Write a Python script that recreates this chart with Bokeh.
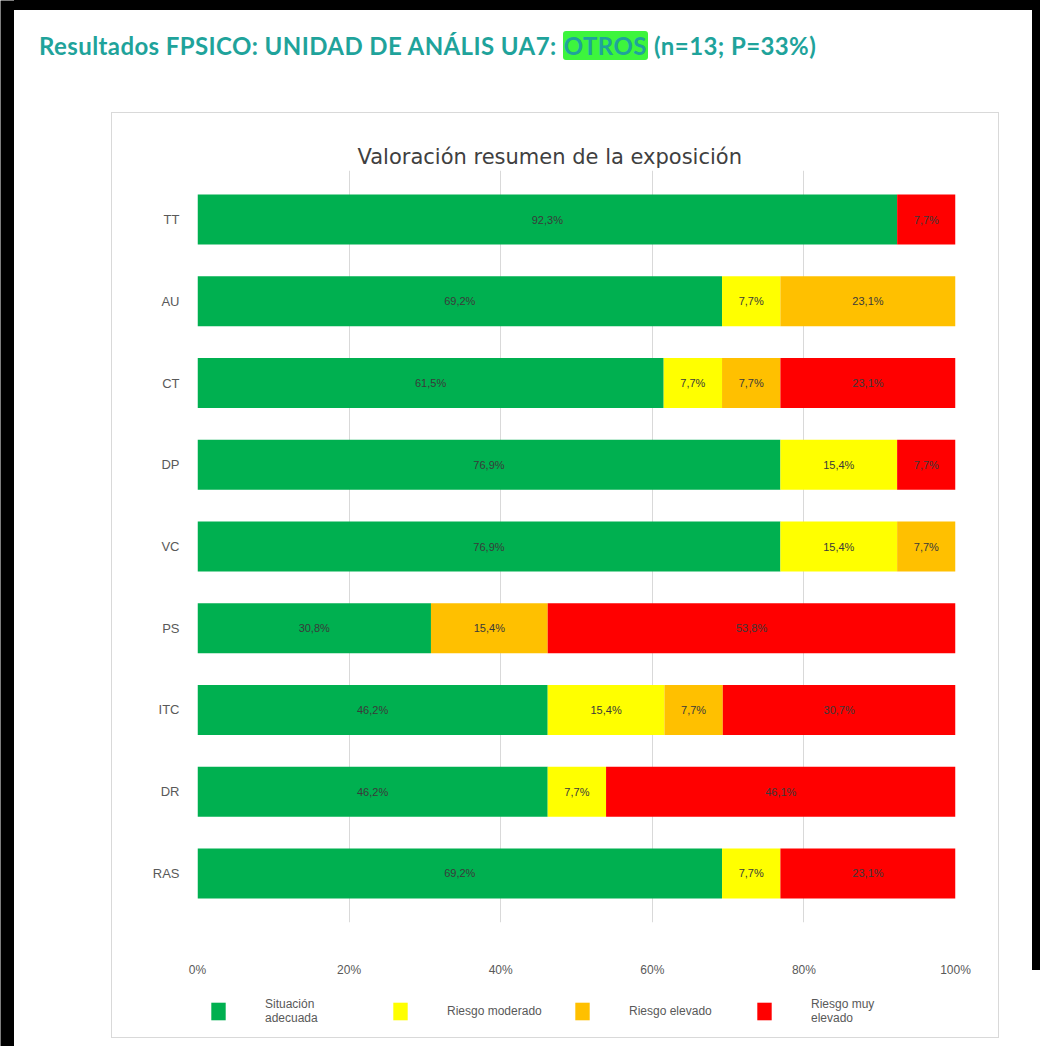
from bokeh.plotting import figure
from bokeh.models import (ColumnDataSource, FactorRange, Range1d, Div, Legend,
                          LegendItem, FixedTicker, PrintfTickFormatter)
from bokeh.layouts import column, row
from bokeh.embed import file_html
from bokeh.resources import INLINE
from bokeh.core.properties import value

# ---------------- data ----------------
categories = ["TT", "AU", "CT", "DP", "VC", "PS", "ITC", "DR", "RAS"]
situacion_adecuada = [92.3, 69.2, 61.5, 76.9, 76.9, 30.8, 46.2, 46.2, 69.2]
riesgo_moderado = [0.0, 7.7, 7.7, 15.4, 15.4, 0.0, 15.4, 7.7, 7.7]
riesgo_elevado = [0.0, 23.1, 7.7, 0.0, 7.7, 15.4, 7.7, 0.0, 0.0]
riesgo_muy_elevado = [7.7, 0.0, 23.1, 7.7, 0.0, 53.8, 30.7, 46.1, 23.1]
series_keys = ["sa", "rm", "re", "rme"]
legend_labels = ["Situación\nadecuada", "Riesgo moderado", "Riesgo elevado", "Riesgo muy\nelevado"]
colors = ["#00B050", "#FFFF00", "#FFC000", "#FF0000"]
x_ticks = [0, 20, 40, 60, 80, 100]
chart_title = "Valoración resumen de la exposición"
page_title_a = "Resultados FPSICO: UNIDAD DE ANÁLIS UA7: "
page_title_b = "OTROS"
page_title_c = " (n=13; P=33%)"

series = [situacion_adecuada, riesgo_moderado, riesgo_elevado, riesgo_muy_elevado]
src = ColumnDataSource(dict(cat=categories, **{k: v for k, v in zip(series_keys, series)}))

# value labels at segment centres
lx, ly, lt = [], [], []
for i, c in enumerate(categories):
    acc = 0.0
    for s in series:
        v = s[i]
        if v > 0:
            lx.append(acc + v / 2)
            ly.append(c)
            lt.append(f"{v:.1f}".replace(".", ",") + "%")
        acc += v
lsrc = ColumnDataSource(dict(x=lx, y=ly, t=lt))

# ---------------- main figure ----------------
yr = FactorRange(factors=list(reversed(categories)), range_padding=0.1,
                 range_padding_units="absolute")
p = figure(width=886, height=880, y_range=yr, x_range=Range1d(0, 100),
           output_backend="svg", toolbar_location=None,
           min_border_left=85, min_border_right=43, min_border_top=57,
           min_border_bottom=71, margin=0)
p.outline_line_color = None
p.background_fill_color = "white"
p.border_fill_color = "white"

rs = p.hbar_stack(series_keys, y="cat", height=0.61, fill_color=colors,
                  line_color=None, source=src)

p.text(x="x", y="y", text="t", source=lsrc, text_align="center",
       text_baseline="middle", text_font_size="11px", text_color="#3a3a3a",
       text_font=value("Liberation Sans"))

p.title.text = chart_title
p.title.align = "left"
p.title.offset = 160
p.title.text_font = "DejaVu Sans"
p.title.text_font_size = "21px"
p.title.text_font_style = "normal"
p.title.text_color = "#404040"
p.title.standoff = 4

p.xaxis.ticker = FixedTicker(ticks=x_ticks)
p.xaxis.formatter = PrintfTickFormatter(format="%d%%")
p.xaxis.axis_line_color = None
p.xaxis.major_tick_line_color = None
p.xaxis.minor_tick_line_color = None
p.xaxis.major_label_standoff = 34
p.xaxis.major_label_text_font = "Liberation Sans"
p.xaxis.major_label_text_font_size = "12px"
p.xaxis.major_label_text_color = "#595959"

p.yaxis.axis_line_color = None
p.yaxis.major_tick_line_color = None
p.yaxis.major_label_standoff = 12
p.yaxis.major_label_text_font = "Liberation Sans"
p.yaxis.major_label_text_font_size = "13px"
p.yaxis.major_label_text_color = "#595959"

p.xgrid.grid_line_color = "#d9d9d9"
p.ygrid.grid_line_color = None

# ---------------- legend figure (below the chart) ----------------
# one zero-width placeholder row so the legend swatches can be drawn
leg_src = ColumnDataSource(dict(cat=[categories[0]], **{k: [0.0] for k in series_keys}))
lf = figure(width=886, height=44, y_range=FactorRange(factors=list(reversed(categories))),
            x_range=Range1d(0, 100), output_backend="svg", toolbar_location=None,
            min_border=0, margin=0, x_axis_location=None, y_axis_location=None)
lf.outline_line_color = None
lf.xgrid.visible = False
lf.ygrid.visible = False
lrs = lf.hbar_stack(series_keys, y="cat", height=0.61, fill_color=colors,
                    line_color=None, source=leg_src)
items = [LegendItem(label=lab, renderers=[r]) for lab, r in zip(legend_labels, lrs)]
legend = Legend(items=items, orientation="horizontal", location=(12, 12),
                glyph_width=18, glyph_height=22, label_standoff=38, label_width=100,
                spacing=26, padding=0, margin=0, border_line_color=None,
                background_fill_alpha=0, label_text_font="Liberation Sans",
                label_text_font_size="12px", label_text_color="#595959")
lf.add_layout(legend, "center")

panel = column(p, lf, spacing=0, styles={"outline": "1px solid #d9d9d9"})

# ---------------- page decorations ----------------
title_html = (
    '<div style="box-sizing:border-box;width:1026px;height:113px;'
    'border-top:10px solid #000;border-right:8px solid #000;'
    'background:#fff;padding:21px 0 0 25px;">'
    '<span style="font-family:Lato, sans-serif;font-weight:700;font-size:24px;letter-spacing:0.4px;'
    'color:#1fa39b;white-space:nowrap;line-height:30px;">'
    + page_title_a +
    '<span style="background:#3df53d;border-radius:3px;padding:0 1px;">' + page_title_b + '</span>'
    + page_title_c + '</span></div>'
)
left_black = figure(width=14, height=1046, output_backend="svg", toolbar_location=None,
                    min_border=0, margin=0, x_axis_location=None, y_axis_location=None,
                    background_fill_color="#000000", border_fill_color="#000000")
left_black.outline_line_color = None
left_black.grid.visible = False
title_div = Div(text=title_html, width=1026, height=113, margin=0)
spacer_div = Div(text="", width=98, height=933, margin=0)
right_div = Div(text='<div style="margin-left:34px;width:8px;height:857px;background:#000"></div>',
                width=42, height=933, margin=0)

layout = row(left_black,
             column(title_div, row(spacer_div, panel, right_div, spacing=0), spacing=0),
             spacing=0)

open("out.html", "w").write(file_html(layout, INLINE))
